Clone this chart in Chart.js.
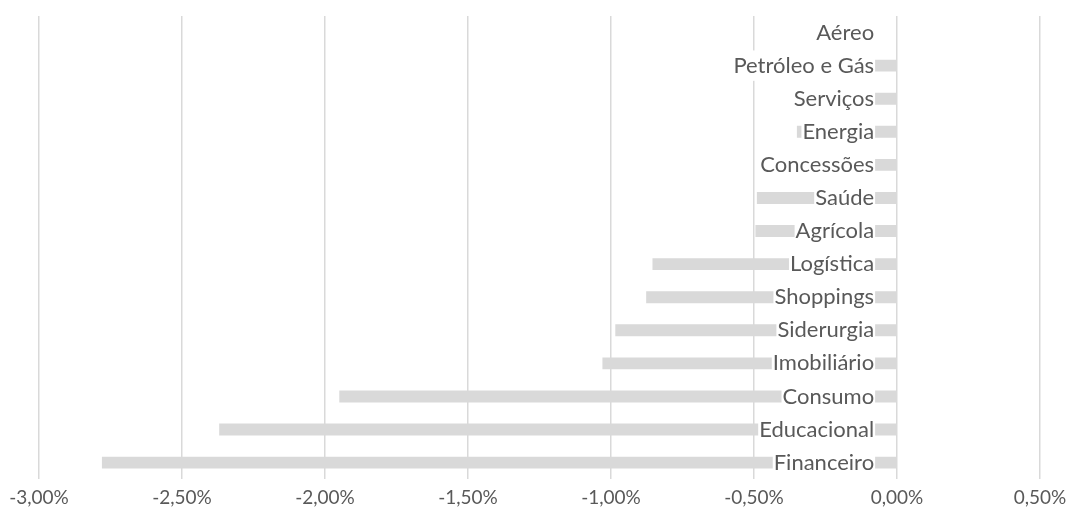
<!DOCTYPE html>
<html>
<head>
<meta charset="utf-8">
<script src="https://cdn.jsdelivr.net/npm/chart.js@4.4.0/dist/chart.umd.min.js"></script>
<style>
  html, body { margin: 0; padding: 0; background: #ffffff; }
  #wrap { width: 1067px; height: 516px; position: relative; }
</style>
</head>
<body>
<div id="wrap"><canvas id="c"></canvas></div>
<script>
const categories = ['Aéreo', 'Petróleo e Gás', 'Serviços', 'Energia', 'Concessões', 'Saúde', 'Agrícola',
  'Logística', 'Shoppings', 'Siderurgia', 'Imobiliário', 'Consumo', 'Educacional', 'Financeiro'];
const variation = [0, -0.15, -0.25, -0.35, -0.42, -0.49, -0.495, -0.855, -0.877, -0.985, -1.03, -1.95, -2.37, -2.78];
const xMin = -3, xMax = 0.5, xStep = 0.5;

const fmt = v => v.toFixed(2).replace('.', ',') + '%';
const FONT = 'Lato, "Open Sans", sans-serif';

new Chart(document.getElementById('c'), {
  type: 'bar',
  data: {
    labels: categories,
    datasets: [{
      data: variation,
      backgroundColor: '#d9d9d9',
      borderWidth: 0,
      categoryPercentage: 1,
      barPercentage: 0.36
    }]
  },
  options: {
    indexAxis: 'y',
    responsive: true,
    maintainAspectRatio: false,
    animation: false,
    layout: { padding: { left: 39, right: 27, top: 16, bottom: 0 } },
    plugins: { legend: { display: false }, tooltip: { enabled: false } },
    scales: {
      x: {
        min: xMin, max: xMax,
        border: { display: false },
        grid: { color: '#d9d9d9', lineWidth: 1.5, drawTicks: false },
        afterFit: s => { s.paddingLeft = 0; s.paddingRight = 0; },
        ticks: {
          stepSize: xStep,
          padding: 7,
          color: '#595959',
          font: { family: FONT, size: 19 },
          callback: v => fmt(v)
        }
      },
      y: {
        position: { x: -0.08 },
        border: { display: false },
        grid: { display: false, drawTicks: false },
        afterFit: s => { s.paddingTop = 0; s.paddingBottom = 0; },
        ticks: {
          z: 1,
          color: '#595959',
          padding: 0,
          font: { family: FONT, size: 22 },
          showLabelBackdrop: true,
          backdropColor: '#ffffff',
          backdropPadding: { left: 1, right: 1, top: 2, bottom: 2 }
        }
      }
    }
  }
});
</script>
</body>
</html>
